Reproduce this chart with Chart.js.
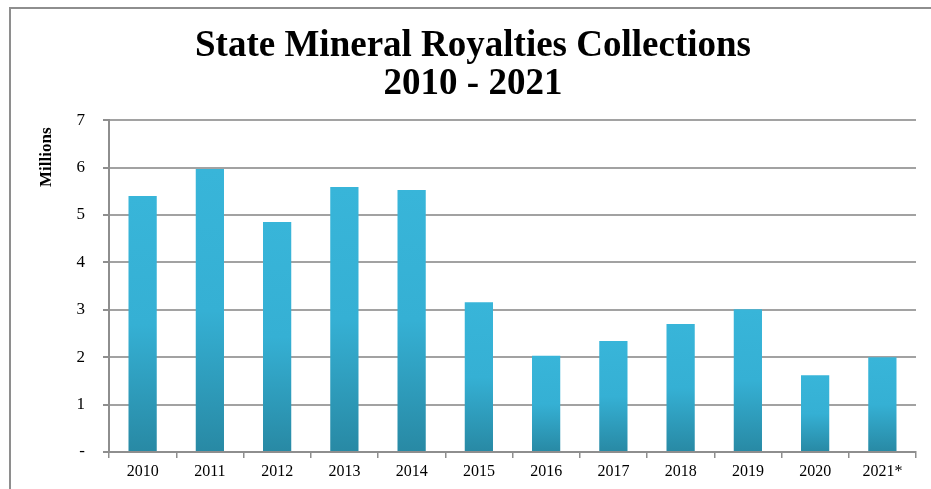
<!DOCTYPE html>
<html>
<head>
<meta charset="utf-8">
<title>State Mineral Royalties Collections</title>
<script src="https://cdn.jsdelivr.net/npm/chart.js@4.4.0/dist/chart.umd.min.js"></script>
<style>
    html, body { margin: 0; padding: 0; background: #fff; overflow: hidden; }
    #wrap { position: absolute; left: 0; top: 0; width: 931px; height: 489px; }
    #frame {
        position: absolute; left: 9px; top: 7px; width: 940px; height: 500px;
        border-left: 2px solid #8e8e8e; border-top: 2px solid #8e8e8e;
        pointer-events: none;
    }
</style>
</head>
<body>
<div id="wrap"><canvas id="royaltyChart"></canvas></div>
<div id="frame"></div>
<script>
// Collections per year, in millions of dollars
const years = ['2010', '2011', '2012', '2013', '2014', '2015', '2016', '2017', '2018', '2019', '2020', '2021*'];
const collections = [5.40, 5.97, 4.85, 5.59, 5.53, 3.16, 2.03, 2.34, 2.70, 3.01, 1.62, 2.00];
const yTicks = [0, 1, 2, 3, 4, 5, 6, 7];
const unitLabel = 'Millions';

const serif = '"Liberation Serif", "Times New Roman", serif';

// Each bar gets its own light-to-dark vertical gradient
function barFill(context) {
    const chart = context.chart;
    if (!chart.chartArea) return '#36b2d6';
    const yScale = chart.scales.y;
    const top = yScale.getPixelForValue(context.raw);
    const base = yScale.getPixelForValue(0);
    const g = chart.ctx.createLinearGradient(0, top, 0, base);
    g.addColorStop(0, '#38b5d9');
    g.addColorStop(0.5, '#35b0d4');
    g.addColorStop(1, '#2889a4');
    return g;
}

// Rotated unit label sitting near the top of the value axis
const unitLabelPlugin = {
    id: 'unitLabel',
    afterDraw(chart) {
        const ctx = chart.ctx;
        const top = chart.chartArea.top;
        ctx.save();
        ctx.translate(47, top + 37);
        ctx.rotate(-Math.PI / 2);
        ctx.font = 'bold 17px ' + serif;
        ctx.fillStyle = '#000';
        ctx.textAlign = 'center';
        ctx.textBaseline = 'middle';
        ctx.fillText(unitLabel, 0, 0);
        ctx.restore();
    }
};

let barChart;

function drawChart() {
    const ctx = document.getElementById('royaltyChart').getContext('2d');
    barChart = new Chart(ctx, {
        type: 'bar',
        data: {
            labels: years,
            datasets: [{
                label: unitLabel,
                data: collections,
                backgroundColor: barFill,
                borderWidth: 0,
                barPercentage: 0.42,
                categoryPercentage: 1.0
            }]
        },
        plugins: [unitLabelPlugin],
        options: {
            responsive: true,
            maintainAspectRatio: false,
            animation: false,
            layout: { padding: { left: 30, right: 15, top: 0, bottom: 0 } },
            plugins: {
                legend: { display: false },
                tooltip: { enabled: false },
                title: {
                    display: true,
                    text: ['State Mineral Royalties Collections', '2010 - 2021'],
                    color: '#000',
                    font: { family: serif, size: 37, weight: 'bold', lineHeight: 1.03 },
                    padding: { top: 27, bottom: 17 }
                }
            },
            scales: {
                x: {
                    z: 1,
                    afterFit: (scale) => { scale.height = 37; },
                    grid: {
                        offset: true,
                        drawOnChartArea: false,
                        drawTicks: true,
                        tickLength: 6,
                        tickColor: '#8e8e8e',
                        lineWidth: 1.5
                    },
                    border: { color: '#8e8e8e', width: 2 },
                    ticks: {
                        color: '#000',
                        padding: 4,
                        maxRotation: 0,
                        font: { family: serif, size: 16 }
                    }
                },
                y: {
                    min: 0,
                    max: 7,
                    afterFit: (scale) => { scale.width = 79; },
                    afterBuildTicks: (scale) => {
                        scale.ticks = yTicks.map(v => ({ value: v }));
                    },
                    grid: {
                        color: '#a2a2a2',
                        lineWidth: 2,
                        tickLength: 6,
                        tickColor: '#8e8e8e'
                    },
                    border: { color: '#8e8e8e', width: 2 },
                    ticks: {
                        color: '#000',
                        padding: 18,
                        font: { family: serif, size: 17 },
                        callback: (v) => (v === 0 ? '-' : v)
                    }
                }
            }
        }
    });
}

document.addEventListener('DOMContentLoaded', () => {
    drawChart();
});
</script>
</body>
</html>
